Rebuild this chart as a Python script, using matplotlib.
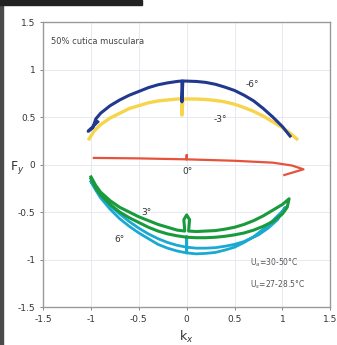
import matplotlib.pyplot as plt
import matplotlib.patches as mpatches

# loop traces, read point by point (k_x, F_y)
neg6_x = [-0.93, -1.03, -0.98, -0.95, -0.9, -0.8, -0.7, -0.6, -0.5, -0.4, -0.3, -0.2, -0.1, -0.05, -0.05,
          -0.04, 0.1, 0.2, 0.3, 0.4, 0.5, 0.6, 0.7, 0.8, 0.9, 1.0, 1.08]
neg6_y = [0.45, 0.35, 0.39, 0.48, 0.54, 0.62, 0.68, 0.73, 0.77, 0.81, 0.84, 0.86, 0.875, 0.88, 0.66,
          0.88, 0.875, 0.865, 0.845, 0.815, 0.78, 0.73, 0.67, 0.59, 0.50, 0.40, 0.30]

neg3_x = [-1.02, -0.97, -0.9, -0.8, -0.7, -0.6, -0.5, -0.4, -0.3, -0.2, -0.1, -0.05, -0.05, -0.04,
          0.1, 0.2, 0.3, 0.4, 0.5, 0.6, 0.7, 0.8, 0.9, 1.0, 1.08, 1.15]
neg3_y = [0.27, 0.35, 0.42, 0.49, 0.54, 0.59, 0.62, 0.65, 0.67, 0.68, 0.69, 0.69, 0.52, 0.69,
          0.69, 0.685, 0.675, 0.66, 0.635, 0.60, 0.56, 0.51, 0.45, 0.39, 0.33, 0.27]

zero_x = [-0.97, -0.5, 0.0, 0.0, 0.0, 0.5, 0.9, 1.1, 1.22, 1.02]
zero_y = [0.07, 0.065, 0.055, 0.10, 0.055, 0.04, 0.02, -0.01, -0.05, -0.11]

pos3_x = [-1.0, -0.95, -0.9, -0.8, -0.7, -0.6, -0.5, -0.4, -0.3, -0.2, -0.1, -0.02, -0.03, 0.0, 0.03, 0.02,
          0.1, 0.2, 0.3, 0.4, 0.5, 0.6, 0.7, 0.8, 0.9, 1.0, 1.07,
          1.05, 1.0, 0.9, 0.8, 0.7, 0.6, 0.5, 0.4, 0.3, 0.2, 0.1, 0.0, -0.1, -0.2, -0.3, -0.4, -0.5,
          -0.6, -0.7, -0.8, -0.9, -0.95, -1.0]
pos3_y = [-0.13, -0.22, -0.29, -0.38, -0.45, -0.50, -0.55, -0.59, -0.63, -0.66, -0.69, -0.70, -0.58, -0.53, -0.58, -0.70,
          -0.705, -0.70, -0.695, -0.68, -0.66, -0.63, -0.59, -0.54, -0.48, -0.42, -0.36,
          -0.45, -0.52, -0.60, -0.65, -0.69, -0.72, -0.74, -0.755, -0.765, -0.77, -0.77, -0.765, -0.75, -0.73, -0.70, -0.66, -0.61,
          -0.56, -0.50, -0.42, -0.32, -0.25, -0.15]

pos6_x = [-1.0, -0.95, -0.9, -0.8, -0.7, -0.6, -0.5, -0.4, -0.3, -0.2, -0.1, 0.0, 0.0, 0.0,
          0.1, 0.2, 0.3, 0.4, 0.5, 0.6, 0.7, 0.8, 0.9, 1.0, 1.03,
          0.95, 0.85, 0.75, 0.6, 0.5, 0.4, 0.3, 0.2, 0.1, 0.0, -0.1, -0.2, -0.3, -0.4, -0.5,
          -0.6, -0.7, -0.8, -0.9, -1.0]
pos6_y = [-0.18, -0.27, -0.35, -0.47, -0.57, -0.65, -0.72, -0.78, -0.84, -0.88, -0.91, -0.93, -0.76, -0.93,
          -0.94, -0.935, -0.925, -0.90, -0.87, -0.82, -0.76, -0.68, -0.59, -0.49, -0.45,
          -0.58, -0.67, -0.74, -0.81, -0.84, -0.86, -0.875, -0.88, -0.88, -0.87, -0.85, -0.82, -0.78, -0.73, -0.67,
          -0.60, -0.52, -0.43, -0.33, -0.18]

ticks = [-1.5, -1, -0.5, 0, 0.5, 1, 1.5]
tick_labels = ['-1.5', '-1', '-0.5', '0', '0.5', '1', '1.5']

fig = plt.figure(figsize=(3.37, 3.45), dpi=100)
ax = fig.add_axes([0.128, 0.110, 0.852, 0.826])

ax.plot(neg3_x, neg3_y, color='#f6d54a', lw=2.4, solid_joinstyle='round')
ax.plot(neg6_x, neg6_y, color='#20398f', lw=2.2, solid_joinstyle='round')
ax.plot(zero_x, zero_y, color='#e6523c', lw=1.6, solid_joinstyle='round')
ax.plot(pos6_x, pos6_y, color='#1ba9d2', lw=2.0, solid_joinstyle='round')
ax.plot(pos3_x, pos3_y, color='#199a3c', lw=2.2, solid_joinstyle='round')

ax.set_xlim(-1.5, 1.5)
ax.set_ylim(-1.5, 1.5)
ax.set_xticks(ticks)
ax.set_xticklabels(tick_labels)
ax.set_yticks(ticks)
ax.set_yticklabels(tick_labels)
ax.grid(True, color='#e2e7ee', lw=0.6)
ax.set_axisbelow(True)
ax.tick_params(labelsize=6.5, length=2, width=0.5, colors='#555555', labelcolor='#333333')
for s in ax.spines.values():
    s.set_color('#9a9a9a')
    s.set_linewidth(1.0)

ax.set_xlabel('k$_x$', fontsize=9, color='#333333', labelpad=4)
ax.set_ylabel('F$_y$', fontsize=9, color='#333333', rotation=0, va='center', ha='center')
ax.yaxis.set_label_coords(-0.09, 0.49)

ax.text(-1.42, 1.3, '50% cutica musculara', fontsize=6, color='#444444', va='center')
ax.text(0.62, 0.82, '-6°', fontsize=6.5, color='#333333')
ax.text(0.28, 0.45, '-3°', fontsize=6.5, color='#333333')
ax.text(-0.04, -0.1, '0°', fontsize=6.5, color='#333333')
ax.text(-0.47, -0.53, '3°', fontsize=6.5, color='#333333')
ax.text(-0.76, -0.81, '6°', fontsize=6.5, color='#333333')
ax.text(0.66, -1.03, 'U$_a$=30-50°C', fontsize=5.5, color='#555555', va='center')
ax.text(0.66, -1.26, 'U$_s$=27-28.5°C', fontsize=5.5, color='#555555', va='center')

# dark edges of the scanned page
fig.patches.append(mpatches.Rectangle((0, 0), 0.009, 1, transform=fig.transFigure,
                                      color='#4a4a4a', zorder=5))
fig.patches.append(mpatches.Rectangle((0, 0.985), 0.42, 0.015, transform=fig.transFigure,
                                      color='#222222', zorder=5))

fig.savefig('out.png', dpi=100)
